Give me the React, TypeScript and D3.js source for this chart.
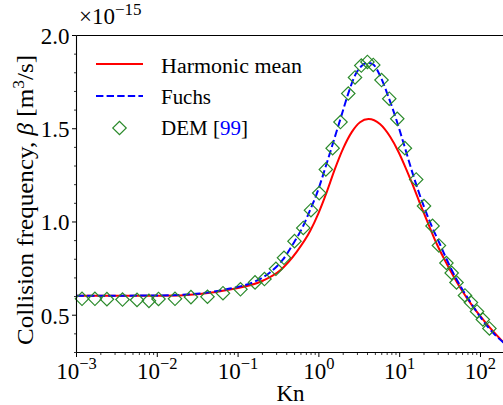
import React from "react";
import * as d3 from "d3";

// Collision frequency (units of 1e-15 m^3/s) versus Knudsen number
const knHarmonic = [0.001, 0.0108, 0.0337, 0.0794, 0.205, 0.33, 0.531, 0.776, 0.984, 1.25, 1.58, 2.0, 2.55, 3.23, 4.11, 5.7, 7.59, 9.61, 11.6, 14.1, 17.8, 22.6, 28.7, 38.2, 55.7, 81.5, 119, 200];
const betaHarmonic = [0.604, 0.604, 0.614, 0.638, 0.686, 0.74, 0.84, 0.95, 1.045, 1.16, 1.285, 1.395, 1.482, 1.535, 1.552, 1.525, 1.458, 1.378, 1.3, 1.212, 1.1, 0.99, 0.883, 0.776, 0.65, 0.543, 0.454, 0.347];

const knFuchs = [0.001, 0.0108, 0.0337, 0.0794, 0.162, 0.248, 0.36, 0.492, 0.635, 0.776, 0.975, 1.19, 1.49, 1.87, 2.29, 2.8, 3.32, 3.94, 4.68, 5.7, 7.16, 8.99, 11.3, 14.6, 18.9, 24.4, 31.6, 42.0, 55.7, 74.1, 98.6, 131, 200];
const betaFuchs = [0.604, 0.606, 0.617, 0.643, 0.681, 0.729, 0.799, 0.89, 0.976, 1.062, 1.169, 1.285, 1.421, 1.56, 1.684, 1.786, 1.834, 1.853, 1.845, 1.786, 1.678, 1.555, 1.415, 1.255, 1.11, 0.987, 0.879, 0.761, 0.66, 0.574, 0.493, 0.424, 0.347];

const knDem = [0.00117, 0.00169, 0.00238, 0.00371, 0.00561, 0.00788, 0.01035, 0.01656, 0.0261, 0.0418, 0.065, 0.107, 0.162, 0.212, 0.294, 0.37, 0.499, 0.641, 0.798, 1.01, 1.22, 1.48, 1.85, 2.31, 2.8, 3.35, 3.99, 4.71, 5.96, 7.43, 9.33, 11.6, 16.0, 20.0, 25.5, 30.6, 37.9, 44.0, 50.5, 64.3, 76.2, 90.6, 107, 129];
const betaDem = [0.588, 0.588, 0.586, 0.584, 0.582, 0.577, 0.587, 0.588, 0.597, 0.599, 0.618, 0.639, 0.676, 0.694, 0.749, 0.808, 0.897, 0.968, 1.063, 1.155, 1.282, 1.396, 1.536, 1.689, 1.775, 1.839, 1.858, 1.842, 1.761, 1.661, 1.553, 1.396, 1.228, 1.085, 0.979, 0.874, 0.78, 0.727, 0.676, 0.606, 0.568, 0.52, 0.477, 0.429];

const xTickExponents = [-3, -2, -1, 0, 1, 2];
const yTicks = [0.5, 1.0, 1.5, 2.0];
const yMinorTicks = [0.3, 0.4, 0.6, 0.7, 0.8, 0.9, 1.1, 1.2, 1.3, 1.4, 1.6, 1.7, 1.8, 1.9];

const W = 503;
const H = 405;
const FONT = "'Liberation Serif', 'Times New Roman', serif";

export default function App() {
  const x = d3.scaleLog().domain([1e-3, 200]).range([76.5, 504.8]);
  const y = d3.scaleLinear().domain([0.3, 2.0]).range([352.5, 35.5]);
  const [x0, x1] = x.range();
  const [yb, yt] = y.range();

  const line = d3
    .line<[number, number]>()
    .x((d) => x(d[0]))
    .y((d) => y(d[1]))
    .curve(d3.curveMonotoneX);

  const harmonic = knHarmonic.map((k, i) => [k, betaHarmonic[i]] as [number, number]);
  const fuchs = knFuchs.map((k, i) => [k, betaFuchs[i]] as [number, number]);
  const dem = knDem.map((k, i) => [k, betaDem[i]] as [number, number]);

  const diamond = d3.symbol(d3.symbolSquare, 90)() as string;
  const xMinor = x.ticks().filter((t) => Math.abs(Math.log10(t) - Math.round(Math.log10(t))) > 1e-6);

  const green = "#2b8a2b";

  return (
    <svg width={W} height={H} style={{ position: "absolute", left: 0, top: 0, background: "#fff" }} fontFamily={FONT}>
      <defs>
        <clipPath id="plotArea">
          <rect x={x0} y={yt} width={x1 - x0} height={yb - yt} />
        </clipPath>
      </defs>

      <g clipPath="url(#plotArea)">
        <path d={line(harmonic) ?? ""} fill="none" stroke="#ff0000" strokeWidth={2} />
        <path d={line(fuchs) ?? ""} fill="none" stroke="#0000ff" strokeWidth={2} strokeDasharray="7.4,3.2" />
      </g>
      {dem.map((d, i) => (
        <path
          key={i}
          d={diamond}
          transform={`translate(${x(d[0])},${y(d[1])}) rotate(45)`}
          fill="none"
          stroke={green}
          strokeWidth={1.2}
        />
      ))}

      {/* spines */}
      <line x1={x0} x2={x0} y1={yt} y2={yb} stroke="#000" strokeWidth={1.1} />
      <line x1={x0} x2={x1} y1={yb} y2={yb} stroke="#000" strokeWidth={1.1} />
      <line x1={x0} x2={x1} y1={yt} y2={yt} stroke="#000" strokeWidth={1.1} />

      {/* x ticks */}
      {xTickExponents.map((e) => {
        const px = x(Math.pow(10, e));
        return (
          <g key={e}>
            <line x1={px} x2={px} y1={yb} y2={yb + 4.5} stroke="#000" strokeWidth={1} />
            <text x={px} y={378.5} textAnchor="middle" fontSize={23}>
              10
              <tspan dy={-10} fontSize={16.5}>
                {e < 0 ? `\u2212${-e}` : `${e}`}
              </tspan>
            </text>
          </g>
        );
      })}
      {xMinor.map((t, i) => (
        <line key={i} x1={x(t)} x2={x(t)} y1={yb} y2={yb + 2.5} stroke="#000" strokeWidth={0.8} />
      ))}

      {/* y ticks */}
      {yTicks.map((v) => (
        <g key={v}>
          <line x1={x0 - 4.5} x2={x0} y1={y(v)} y2={y(v)} stroke="#000" strokeWidth={1} />
          <text x={69.5} y={y(v) + 8.5} textAnchor="end" fontSize={23}>
            {v.toFixed(1)}
          </text>
        </g>
      ))}
      {yMinorTicks.map((v) => (
        <line key={v} x1={x0 - 2.5} x2={x0} y1={y(v)} y2={y(v)} stroke="#000" strokeWidth={0.8} />
      ))}

      {/* offset text */}
      <text x={79} y={24} fontSize={23}>
        {"\u00d710"}
        <tspan dy={-9} fontSize={17}>
          {"\u221215"}
        </tspan>
      </text>

      {/* axis labels */}
      <text x={290.5} y={400.5} textAnchor="middle" fontSize={23}>
        Kn
      </text>
      <text
        transform="translate(32.5,200) rotate(-90)"
        textAnchor="middle"
        fontSize={23}
        textLength={290}
        lengthAdjust="spacingAndGlyphs"
      >
        Collision frequency, <tspan fontStyle="italic">β</tspan> [m
        <tspan dy={-9} fontSize={16}>
          3
        </tspan>
        <tspan dy={9}>/s]</tspan>
      </text>

      {/* legend */}
      <line x1={96} x2={143} y1={64} y2={64} stroke="#ff0000" strokeWidth={2} />
      <text x={161} y={72.5} fontSize={20} textLength={141} lengthAdjust="spacingAndGlyphs">
        Harmonic mean
      </text>
      <line x1={96} x2={143} y1={96} y2={96} stroke="#0000ff" strokeWidth={2} strokeDasharray="7.4,3.2" />
      <text x={161} y={104} fontSize={20} textLength={50} lengthAdjust="spacingAndGlyphs">
        Fuchs
      </text>
      <path d={diamond} transform="translate(119.5,128) rotate(45)" fill="none" stroke={green} strokeWidth={1.2} />
      <text x={161} y={135} fontSize={20} textLength={87} lengthAdjust="spacingAndGlyphs">
        DEM [<tspan fill="#0000ff">99</tspan>]
      </text>
    </svg>
  );
}
